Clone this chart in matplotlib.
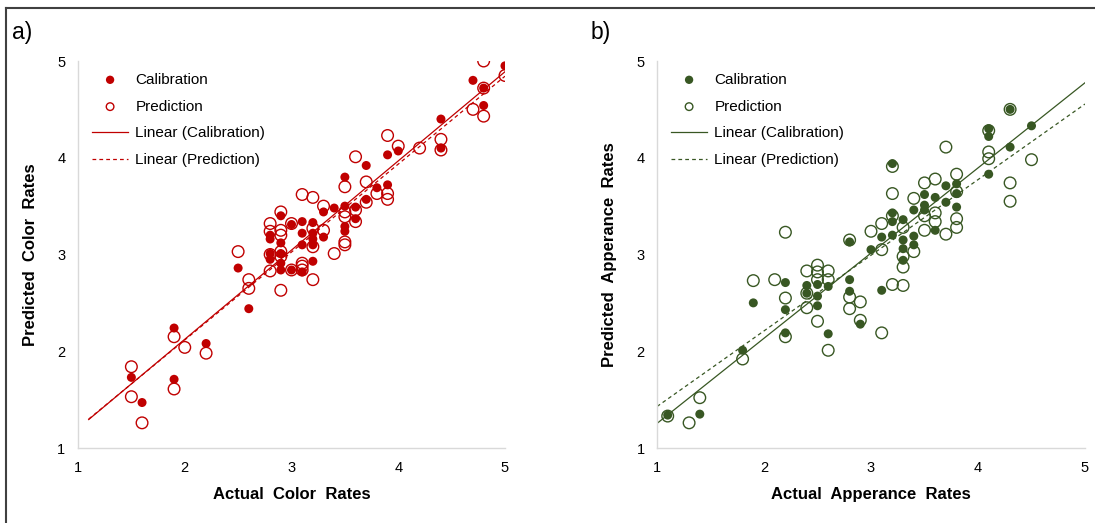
import numpy as np
import matplotlib
matplotlib.use("Agg")
from matplotlib import pyplot as plt
from matplotlib.lines import Line2D

plt.rcParams['font.family'] = ['Liberation Sans', 'DejaVu Sans']

# panel a) color rates
color_cal_x = [5.0, 4.7, 4.8, 4.8, 4.4, 4.4, 4.0, 3.9, 3.7, 3.5, 3.9, 3.8, 3.7, 3.6, 3.6, 3.5,
               3.4, 3.3, 3.5, 3.5, 3.2, 3.1, 3.0, 2.9, 3.2, 3.2, 3.2, 3.1, 3.1, 3.3, 2.8, 2.8,
               2.9, 2.8, 2.8, 2.9, 2.9, 2.9, 3.0, 3.1, 3.2, 2.5, 2.6, 1.9, 2.2, 1.5, 1.9, 1.6]
color_cal_y = [4.95, 4.80, 4.72, 4.54, 4.40, 4.10, 4.07, 4.03, 3.92, 3.80, 3.72, 3.69, 3.57, 3.49, 3.37, 3.50,
               3.48, 3.44, 3.29, 3.24, 3.33, 3.34, 3.31, 3.40, 3.22, 3.16, 3.10, 3.22, 3.10, 3.18, 3.20, 3.16,
               3.12, 3.01, 2.95, 3.01, 2.91, 2.84, 2.84, 2.82, 2.93, 2.86, 2.44, 2.24, 2.08, 1.73, 1.71, 1.47]
color_pred_x = [4.8, 5.0, 4.8, 4.7, 4.8, 4.4, 4.4, 4.2, 3.9, 4.0, 3.6, 3.7, 3.5, 3.8, 3.9, 3.9,
                3.1, 3.2, 3.3, 3.7, 3.6, 3.5, 3.5, 3.6, 3.5, 3.5, 3.4, 2.9, 2.8, 2.8, 2.9, 2.9,
                3.0, 3.2, 3.3, 3.2, 2.8, 2.9, 2.9, 2.8, 3.1, 3.1, 3.2, 2.9, 2.6, 2.6, 2.5, 3.0,
                3.1, 1.9, 2.0, 2.2, 1.5, 1.5, 1.9, 1.6]
color_pred_y = [5.00, 4.85, 4.72, 4.50, 4.43, 4.19, 4.08, 4.10, 4.23, 4.12, 4.01, 3.75, 3.70, 3.63, 3.63, 3.57,
                3.62, 3.59, 3.50, 3.54, 3.34, 3.44, 3.39, 3.46, 3.13, 3.10, 3.01, 3.44, 3.32, 3.24, 3.25, 3.20,
                3.32, 3.27, 3.25, 3.08, 3.00, 3.03, 2.98, 2.83, 2.91, 2.84, 2.74, 2.63, 2.74, 2.65, 3.03, 2.84,
                2.88, 2.15, 2.04, 1.98, 1.84, 1.53, 1.61, 1.26]

# panel b) appearance rates
app_cal_x = [4.3, 4.5, 4.1, 4.1, 4.3, 4.1, 3.2, 3.7, 3.8, 3.8, 3.8, 3.7, 3.6, 3.5, 3.5, 3.5,
             3.4, 3.6, 3.2, 3.2, 3.2, 3.3, 3.4, 3.4, 3.3, 3.3, 3.3, 3.1, 3.0, 2.8, 2.8, 2.8,
             3.1, 2.2, 2.4, 2.4, 2.5, 2.5, 2.5, 2.6, 1.9, 2.2, 2.2, 2.6, 2.9, 1.8, 1.1, 1.4]
app_cal_y = [4.50, 4.33, 4.30, 4.22, 4.11, 3.83, 3.94, 3.71, 3.73, 3.63, 3.49, 3.54, 3.59, 3.62, 3.51, 3.46,
             3.46, 3.25, 3.43, 3.34, 3.20, 3.36, 3.19, 3.10, 3.15, 3.06, 2.94, 3.18, 3.05, 3.13, 2.74, 2.62,
             2.63, 2.71, 2.68, 2.60, 2.69, 2.57, 2.47, 2.67, 2.50, 2.43, 2.19, 2.18, 2.28, 2.01, 1.34, 1.35]
app_pred_x = [4.3, 4.1, 4.1, 4.1, 4.5, 3.7, 4.3, 4.3, 3.8, 3.6, 3.5, 3.8, 3.8, 3.8, 3.7, 3.6,
              3.6, 3.5, 3.5, 3.4, 3.3, 3.3, 3.3, 3.4, 3.2, 3.2, 3.2, 3.1, 3.0, 3.1, 2.8, 2.2,
              3.2, 3.3, 1.9, 2.1, 2.4, 2.5, 2.5, 2.5, 2.6, 2.6, 2.4, 2.4, 2.2, 2.2, 2.5, 2.6,
              2.8, 2.8, 2.9, 2.9, 3.1, 1.8, 1.4, 1.1, 1.3]
app_pred_y = [4.50, 4.28, 4.06, 3.99, 3.98, 4.11, 3.74, 3.55, 3.83, 3.78, 3.74, 3.65, 3.37, 3.28, 3.21, 3.43,
              3.34, 3.40, 3.25, 3.58, 3.28, 2.98, 2.87, 3.03, 3.63, 3.91, 3.40, 3.32, 3.24, 3.05, 3.15, 3.23,
              2.69, 2.68, 2.73, 2.74, 2.83, 2.89, 2.82, 2.74, 2.83, 2.74, 2.60, 2.45, 2.55, 2.15, 2.31, 2.01,
              2.56, 2.44, 2.51, 2.32, 2.19, 1.92, 1.52, 1.33, 1.26]

ticks = [1, 2, 3, 4, 5]


def draw_panel(ax, cx, cy, px, py, color, xlabel, ylabel, trend_from):
    ax.scatter(cx, cy, s=42, color=color, edgecolors='none', label='Calibration', zorder=3)
    ax.scatter(px, py, s=70, facecolors='none', edgecolors=color, linewidths=1.0,
               label='Prediction', zorder=3)
    # excel style linear trendlines
    xs = np.array([trend_from, 5.0])
    k, b = np.polyfit(cx, cy, 1)
    ax.plot(xs, k * xs + b, color=color, lw=0.9, label='Linear (Calibration)', zorder=2)
    k, b = np.polyfit(px, py, 1)
    ax.plot(xs, k * xs + b, color=color, lw=0.9, ls=(0, (3, 2.5)),
            label='Linear (Prediction)', zorder=2)

    ax.set_xlim(1, 5)
    ax.set_ylim(1, 5)
    ax.set_xticks(ticks)
    ax.set_yticks(ticks)
    ax.tick_params(length=0, labelsize=10.5, pad=9)
    for s in ['top', 'right']:
        ax.spines[s].set_visible(False)
    for s in ['left', 'bottom']:
        ax.spines[s].set_color('#d9d9d9')
        ax.spines[s].set_linewidth(1.0)
    ax.set_xlabel(xlabel, fontsize=12, fontweight='bold', labelpad=9)
    ax.set_ylabel(ylabel, fontsize=12, fontweight='bold', labelpad=14)
    leg = ax.legend(loc='upper left', bbox_to_anchor=(0.0, 1.005), frameon=False, fontsize=11,
                    handlelength=2.4, handletextpad=0.45, labelspacing=0.84)
    # legend markers are drawn smaller than in the plot
    leg.legend_handles[0].set_sizes([36])
    leg.legend_handles[1].set_sizes([30])


fig = plt.figure(figsize=(10.95, 5.23), dpi=100)
ax1 = fig.add_axes([78 / 1095, 75 / 523, 427 / 1095, 387 / 523])
ax2 = fig.add_axes([657 / 1095, 75 / 523, 428 / 1095, 387 / 523])

draw_panel(ax1, color_cal_x, color_cal_y, color_pred_x, color_pred_y, '#c00000',
           'Actual  Color  Rates', 'Predicted  Color  Rates', 1.1)
draw_panel(ax2, app_cal_x, app_cal_y, app_pred_x, app_pred_y, '#385723',
           'Actual  Apperance  Rates', 'Predicted  Apperance  Rates', 1.0)

fig.text(12 / 1095, 1 - 32 / 523, 'a)', fontsize=16.5, va='center', ha='left')
fig.text(591 / 1095, 1 - 32 / 523, 'b)', fontsize=16.5, va='center', ha='left')

# frame around the figure (top and left edges visible)
fig.add_artist(Line2D([6 / 1095, 1.0], [1 - 8 / 523, 1 - 8 / 523], color='#404040', lw=1.5))
fig.add_artist(Line2D([6 / 1095, 6 / 1095], [0.0, 1 - 8 / 523], color='#404040', lw=1.5))

fig.savefig('out.png', dpi=100)
